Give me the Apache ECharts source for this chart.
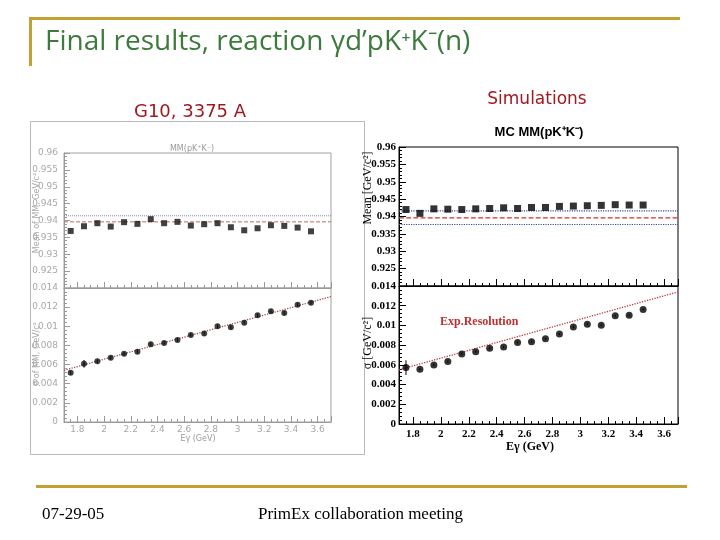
<!DOCTYPE html>
<html>
<head>
<meta charset="utf-8">
<script src="https://cdn.jsdelivr.net/npm/echarts@6/dist/echarts.min.js"></script>
<style>
html,body{margin:0;padding:0;background:#fff;}
#chart{width:720px;height:540px;}
</style>
</head>
<body>
<div id="chart"></div>
<script>
// ---------- data ----------
const energyData = [1.75,1.85,1.95,2.05,2.15,2.25,2.35,2.45,2.55,2.65,2.75,2.85,2.95,3.05,3.15,3.25,3.35,3.45,3.55];
const dataMean = [0.9369,0.9383,0.9392,0.9382,0.9395,0.9390,0.9404,0.9392,0.9396,0.9385,0.9389,0.9392,0.9380,0.9371,0.9377,0.9386,0.9384,0.9379,0.9368];
const dataSigma = [0.00514,0.00608,0.00635,0.00670,0.00712,0.00733,0.00813,0.00826,0.00858,0.00910,0.00924,0.01000,0.00990,0.01038,0.01115,0.01156,0.01139,0.01226,0.01247];
const dataSigmaErr = [0.0002,0.0004,0.0002,0.0002,0.0002,0.0002,0.0002,0.0002,0.0002,0.0002,0.0002,0.0002,0.0002,0.0002,0.0002,0.0002,0.0002,0.0002,0.0002];
const energySim = [1.75,1.85,1.95,2.05,2.15,2.25,2.35,2.45,2.55,2.65,2.75,2.85,2.95,3.05,3.15,3.25,3.35,3.45];
const simMean = [0.9420,0.9409,0.9422,0.9421,0.9420,0.9422,0.9423,0.9425,0.9423,0.9426,0.9426,0.9429,0.9430,0.9431,0.9432,0.9434,0.9433,0.9433];
const simSigma = [0.00572,0.00556,0.00599,0.00633,0.00710,0.00734,0.00768,0.00781,0.00828,0.00835,0.00865,0.00912,0.00983,0.01013,0.01003,0.01098,0.01104,0.01162];
const simSigmaErr = [0.00075,0.0001,0.0001,0.0001,0.0001,0.0001,0.0001,0.0001,0.0001,0.0001,0.0001,0.0001,0.0001,0.0001,0.0001,0.0001,0.0001,0.0001];
const fitEnergy = [1.7, 3.7];
const dataFit = [0.0054, 0.0131];
const simFit = [0.0055, 0.0134];
const dataRefLines = [0.9414, 0.9396];
const simRefLines = [0.9416, 0.9396, 0.9377];
const energyRange = [1.7, 3.7];
const meanRange = [0.92, 0.96, 0.005];
const sigmaRange = [0, 0.014, 0.002];

// ---------- helpers ----------
const GREY = '#9a9a9a';
const leftLabelFont = {color:'#a8a8a8', fontSize:9, fontFamily:'DejaVu Sans'};
const rightLabelFont = {color:'#000', fontSize:11, fontWeight:'bold', fontFamily:'Liberation Serif'};
function xFmt(v){ return (Math.abs(v-energyRange[0])<1e-6 || Math.abs(v-energyRange[1])<1e-6) ? '' : String(+v.toFixed(2)); }

function makeX(gi, showLabel, left){
  return {
    type:'value', gridIndex:gi, min:energyRange[0], max:energyRange[1], splitNumber:10,
    axisLine:{show:true, lineStyle:{color:left?GREY:'#000', width:1}},
    axisTick:{show:true, inside:true, length:left?6:7, lineStyle:{color:left?GREY:'#000'}},
    minorTick:{show:true, splitNumber:4, length:3, lineStyle:{color:left?GREY:'#000'}},
    splitLine:{show:false},
    axisLabel:Object.assign({show:showLabel, formatter:xFmt, margin:left?3:5}, left?leftLabelFont:rightLabelFont)
  };
}
function makeY(gi, range, hideMin, left){
  return {
    type:'value', gridIndex:gi, min:range[0], max:range[1], interval:range[2],
    axisLine:{show:true, lineStyle:{color:left?GREY:'#000', width:1}},
    axisTick:{show:true, inside:true, length:left?6:7, lineStyle:{color:left?GREY:'#000'}},
    minorTick:{show:true, splitNumber:5, length:3, lineStyle:{color:left?GREY:'#000'}},
    splitLine:{show:false},
    axisLabel:Object.assign({showMinLabel:!hideMin, margin:left?6:3}, left?leftLabelFont:rightLabelFont)
  };
}
function errBars(xs, ys, es, xi, yi){
  return {
    type:'custom', xAxisIndex:xi, yAxisIndex:yi, silent:true, z:3,
    data: xs.map((x,i)=>[x, ys[i], es[i]]),
    renderItem:function(params, api){
      const x=api.value(0), y=api.value(1), e=api.value(2);
      const p1=api.coord([x,y-e]), p2=api.coord([x,y+e]);
      return {type:'line', shape:{x1:p1[0],y1:p1[1],x2:p2[0],y2:p2[1]}, style:{stroke:'#000', lineWidth:1}};
    }
  };
}
function hLine(v, xi, yi, style){
  return {type:'line', xAxisIndex:xi, yAxisIndex:yi, symbol:'none', silent:true, z:1,
          data: energyRange.map(x=>[x, v]), lineStyle:style};
}

const chart = echarts.init(document.getElementById('chart'), null, {renderer:'canvas'});
const leftRefStyles = [{color:'#8a8a9a', type:'dotted', width:1},{color:'#c06868', type:'dashed', width:1}];
const simRefStyles = [{color:'#3a4aa0', type:'dotted', width:1.2},{color:'#d03030', type:'dashed', width:1.2},{color:'#3a4aa0', type:'dotted', width:1.2}];

const series = [
  {type:'scatter', xAxisIndex:0, yAxisIndex:0, symbol:'rect', symbolSize:6, itemStyle:{color:'#111'}, z:3,
   data: energyData.map((x,i)=>[x, dataMean[i]])},
  {type:'line', xAxisIndex:1, yAxisIndex:1, symbol:'none', z:1,
   data: fitEnergy.map((x,i)=>[x, dataFit[i]]),
   lineStyle:{color:'#a85050', type:'dotted', width:1.3}},
  errBars(energyData, dataSigma, dataSigmaErr, 1, 1),
  {type:'scatter', xAxisIndex:1, yAxisIndex:1, symbol:'circle', symbolSize:6, itemStyle:{color:'#111'}, z:3,
   data: energyData.map((x,i)=>[x, dataSigma[i]])},
  {type:'scatter', xAxisIndex:2, yAxisIndex:2, symbol:'rect', symbolSize:7, itemStyle:{color:'#000'}, z:3,
   data: energySim.map((x,i)=>[x, simMean[i]])},
  {type:'line', xAxisIndex:3, yAxisIndex:3, symbol:'none', z:1,
   data: fitEnergy.map((x,i)=>[x, simFit[i]]),
   lineStyle:{color:'#c03a3a', type:'dotted', width:1.3}},
  errBars(energySim, simSigma, simSigmaErr, 3, 3),
  {type:'scatter', xAxisIndex:3, yAxisIndex:3, symbol:'circle', symbolSize:7, itemStyle:{color:'#000'}, z:3,
   data: energySim.map((x,i)=>[x, simSigma[i]])}
];
dataRefLines.forEach((v,i)=>series.push(hLine(v,0,0,leftRefStyles[i])));
simRefLines.forEach((v,i)=>series.push(hLine(v,2,2,simRefStyles[i])));

const option = {
  animation:false,
  backgroundColor:'#ffffff',
  grid:[
    {left:64, top:153, width:267, height:135, show:true, borderColor:'#a0a0a0', borderWidth:1, backgroundColor:'transparent'},
    {left:64, top:288, width:267, height:134, show:true, borderColor:'#a0a0a0', borderWidth:1, backgroundColor:'transparent'},
    {left:399, top:147, width:279, height:139, show:true, borderColor:'#000', borderWidth:1, backgroundColor:'transparent'},
    {left:399, top:286, width:279, height:138, show:true, borderColor:'#000', borderWidth:1, backgroundColor:'transparent'}
  ],
  xAxis:[ makeX(0,false,true), makeX(1,true,true), makeX(2,false,false), makeX(3,true,false) ],
  yAxis:[ makeY(0,meanRange,true,true), makeY(1,sigmaRange,false,true), makeY(2,meanRange,true,false), makeY(3,sigmaRange,false,false) ],
  series: series,
  graphic:[
    // slide decorations
    {type:'rect', shape:{x:30, y:17, width:650, height:3}, style:{fill:'#c4a030'}, silent:true},
    {type:'rect', shape:{x:29, y:17, width:3, height:49}, style:{fill:'#c4a030'}, silent:true},
    {type:'rect', shape:{x:36, y:485, width:651, height:3}, style:{fill:'#c4a030'}, silent:true},
    {type:'rect', shape:{x:30.5, y:121.5, width:334, height:333}, style:{fill:'none', stroke:'#b8b8b8', lineWidth:1}, silent:true},
    {type:'text', x:45, y:42, style:{text:'Final results, reaction γd’pK⁺K⁻(n)', font:'28px "Open Sans"', fill:'#3d7b3d', verticalAlign:'middle', align:'left'}},
    {type:'text', x:190, y:112, style:{text:'G10, 3375 A', font:'18px "DejaVu Sans"', fill:'#a01820', verticalAlign:'middle', align:'center'}},
    {type:'text', x:537, y:100, style:{text:'Simulations', font:'17px "DejaVu Sans"', fill:'#a01820', verticalAlign:'middle', align:'center'}},
    {type:'text', x:42, y:515, style:{text:'07-29-05', font:'17px "Liberation Serif"', fill:'#000', verticalAlign:'middle', align:'left'}},
    {type:'text', x:258, y:515, style:{text:'PrimEx collaboration meeting', font:'17px "Liberation Serif"', fill:'#000', verticalAlign:'middle', align:'left'}},
    // left panel texts
    {type:'text', x:192, y:149, style:{text:'MM(pK⁺K⁻)', font:'8px "DejaVu Sans"', fill:'#999', verticalAlign:'middle', align:'center'}},
    {type:'text', x:198, y:439, style:{text:'Eγ (GeV)', font:'8px "DejaVu Sans"', fill:'#999', verticalAlign:'middle', align:'center'}},
    {type:'text', x:37, y:213, rotation:Math.PI/2, style:{text:'Mean of MM, GeV/c²', font:'8px "DejaVu Sans"', fill:'#a8a8a8', verticalAlign:'middle', align:'center'}},
    {type:'text', x:37, y:354, rotation:Math.PI/2, style:{text:'σ of MM, GeV/c²', font:'8px "DejaVu Sans"', fill:'#a8a8a8', verticalAlign:'middle', align:'center'}},
    // right panel texts
    {type:'text', x:539, y:132, style:{text:'MC MM(pK⁺K⁻)', font:'bold 13px "Liberation Sans"', fill:'#000', verticalAlign:'middle', align:'center'}},
    {type:'text', x:530, y:447, style:{text:'Eγ (GeV)', font:'bold 12px "Liberation Serif"', fill:'#000', verticalAlign:'middle', align:'center'}},
    {type:'text', x:368, y:188, rotation:Math.PI/2, style:{text:'Mean [GeV/c²]', font:'12px "Liberation Serif"', fill:'#000', verticalAlign:'middle', align:'center'}},
    {type:'text', x:368, y:343, rotation:Math.PI/2, style:{text:'σ [GeV/c²]', font:'12px "Liberation Serif"', fill:'#000', verticalAlign:'middle', align:'center'}},
    {type:'text', x:440, y:322, style:{text:'Exp.Resolution', font:'bold 12px "Liberation Serif"', fill:'#c03030', verticalAlign:'middle', align:'left'}}
  ]
};
chart.setOption(option);
</script>
</body>
</html>
